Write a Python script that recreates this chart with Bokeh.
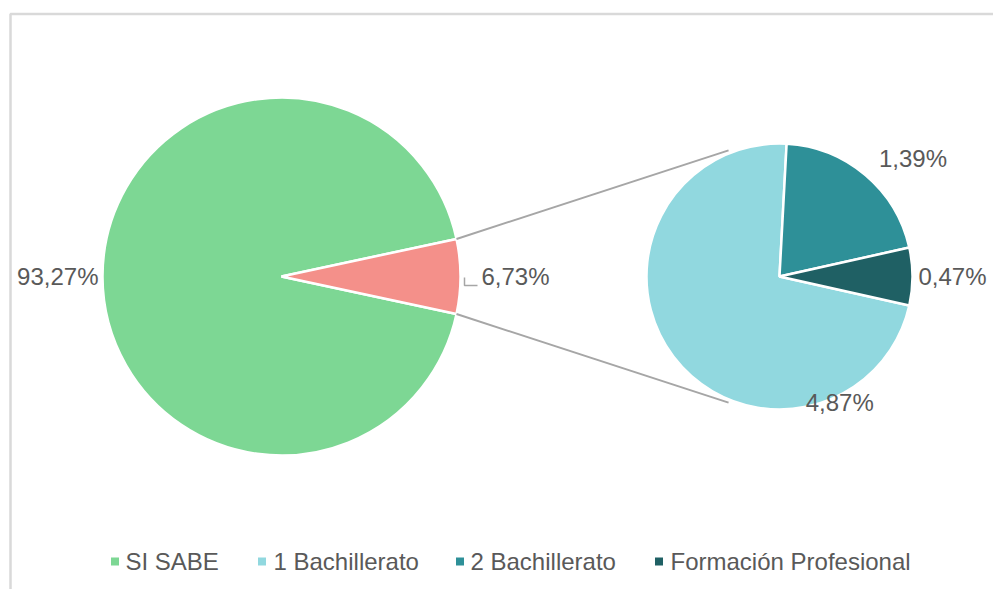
import math
from bokeh.plotting import figure
from bokeh.models import Range1d, ColumnDataSource
from bokeh.core.properties import value
from bokeh.embed import file_html
from bokeh.resources import INLINE

# ---------------- data ----------------
categories = ["SI SABE", "1 Bachillerato", "2 Bachillerato", "Formación Profesional"]
values = [93.27, 4.87, 1.39, 0.47]
colors = ["#7DD794", "#91D8DF", "#2E9098", "#1F6064"]
other_color = "#F4908A"

main_value = values[0]
sec_values = values[1:]
other_value = round(sum(sec_values), 2)

# ---------------- layout (picture pixels) ----------------
W, H = 993, 589
def X(px):
    return px
def Y(py):
    return H - py

CX1, CY, R1 = 281, 276, 179
CX2, R2 = 779, 133
FONT = value("Liberation Sans")
FSIZE = value("24px")
TXT = "#595959"

p = figure(width=W, height=H, x_range=Range1d(0, W), y_range=Range1d(0, H),
           x_axis_type=None, y_axis_type=None, toolbar_location=None,
           output_backend="svg", min_border=0)
p.outline_line_color = None
p.grid.visible = False
p.background_fill_color = "white"
p.border_fill_color = "white"

# chart border
p.line(x=[10, 10, 1010], y=[Y(620), Y(13.5), Y(13.5)], line_color="#D9D9D9", line_width=2.5)

def rad(d):
    return [math.radians(a) for a in d]

# ---------------- main pie ----------------
total = main_value + other_value
other_span = 360.0 * other_value / total
main_src = ColumnDataSource(dict(
    x=[X(CX1)] * 2, y=[Y(CY)] * 2,
    start=rad([other_span / 2, -other_span / 2]),
    end=rad([360 - other_span / 2, other_span / 2]),
    color=[colors[0], other_color],
))
p.wedge(x="x", y="y", radius=R1, start_angle="start", end_angle="end",
        direction="anticlock", fill_color="color", line_color="white", line_width=2.5,
        source=main_src)

# ---------------- secondary pie ----------------
sec_total = sum(sec_values)
spans = [360.0 * v / sec_total for v in sec_values]  # 1 Bach, 2 Bach, FP
fp_start = -spans[2] / 2
fp_end = spans[2] / 2
b2_start, b2_end = fp_end, fp_end + spans[1]
b1_start, b1_end = b2_end, 360 + fp_start
sec_src = ColumnDataSource(dict(
    x=[X(CX2)] * 3, y=[Y(CY)] * 3,
    start=rad([b1_start, b2_start, fp_start]),
    end=rad([b1_end, b2_end, fp_end]),
    color=colors[1:],
))
p.wedge(x="x", y="y", radius=R2, start_angle="start", end_angle="end",
        direction="anticlock", fill_color="color", line_color="white", line_width=2.5,
        source=sec_src)

# connector lines
def pt(cx, r, ang):
    a = math.radians(ang)
    return X(cx) + r * math.cos(a), Y(CY) + r * math.sin(a)

for sgn in (1, -1):
    x0, y0 = pt(CX1, R1, sgn * other_span / 2)
    x1, y1 = pt(CX2, R2 + 3, sgn * 112)
    p.line(x=[x0, x1], y=[y0, y1], line_color="#A6A6A6", line_width=2)

# ---------------- labels ----------------
def fmt(v):
    return f"{v:.2f}".replace(".", ",") + "%"

labels = [
    # (value, cx, angle, dist, align)
    (main_value, CX1, 180, R1 + 4, "right"),
    (other_value, CX1, 0, R1 + 21, "left"),
    (sec_values[1], CX2, (b2_start + b2_end) / 2, 154, "left"),
    (sec_values[2], CX2, 0, R2 + 6, "left"),
    (sec_values[0], CX2, -64.5, 140, "center"),
]
for v, cx, ang, dist, align in labels:
    lx, ly = pt(cx, dist, ang)
    p.text(x=[lx], y=[ly], text=[fmt(v)], text_font=FONT, text_font_size=FSIZE,
           text_color=TXT, text_align=align, text_baseline="middle")

# leader line for the "other" label
lx, ly = pt(CX1, R1 + 21, 0)
p.line(x=[lx - 17, lx - 17, lx - 4], y=[ly - 1, ly - 9, ly - 9], line_color="#A6A6A6", line_width=1.5)

# ---------------- legend ----------------
leg_sq_x = [114.5, 261.5, 459.5, 658.5]
leg_tx_x = [125, 273, 470, 670]
leg_y = 561
p.rect(x=[X(v) for v in leg_sq_x], y=[Y(leg_y)] * 4, width=8, height=8,
       fill_color=colors, line_color=None)
p.text(x=[X(v) for v in leg_tx_x], y=[Y(leg_y)] * 4, text=categories, text_font=FONT,
       text_font_size=FSIZE, text_color=TXT, text_align="left", text_baseline="middle")

open("out.html", "w").write(file_html(p, INLINE))
